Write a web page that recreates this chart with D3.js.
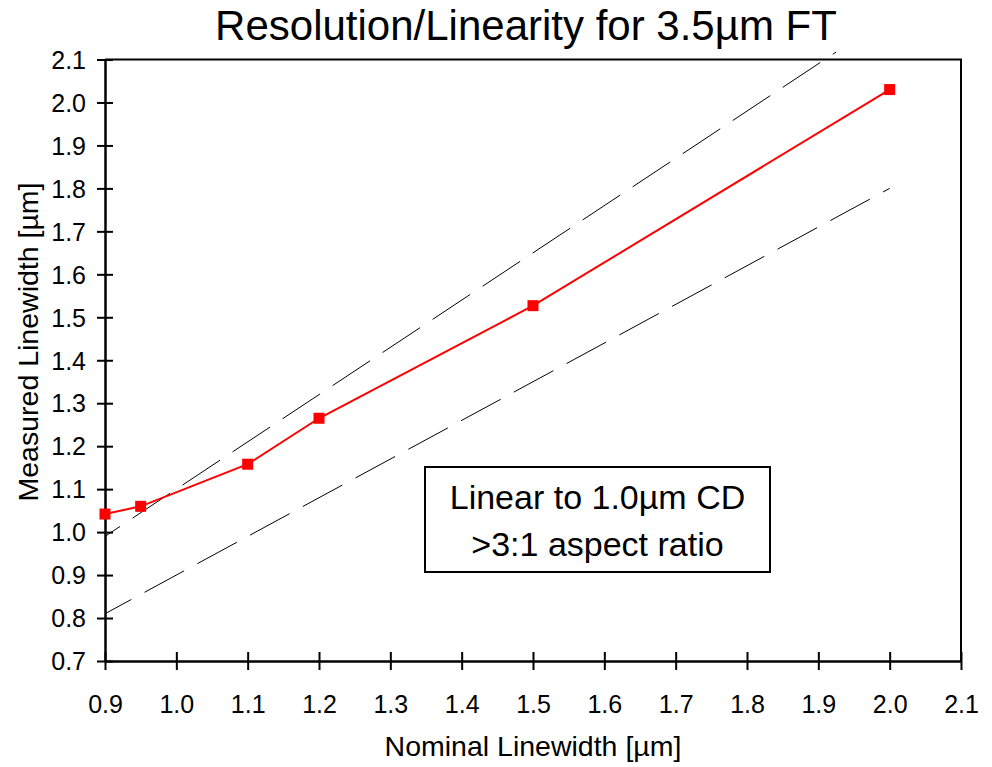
<!DOCTYPE html>
<html lang="en">
<head>
    <meta charset="UTF-8">
    <title>Resolution/Linearity for 3.5µm FT</title>
    <style>
        body { margin: 0; background: #fff; }
        svg text { font-family: "Liberation Sans", Arial, sans-serif; fill: #000; }
    </style>
    <script src="https://cdn.jsdelivr.net/npm/d3@7"></script>
</head>
<body>
    <svg id="chart" width="992" height="767"></svg>

    <script>
        // measured points
        const nominal = [0.9, 0.95, 1.1, 1.2, 1.5, 2.0];
        const measured = [1.042, 1.06, 1.158, 1.265, 1.527, 2.03];

        // +/-10% guide lines (end points)
        const upperX = [0.9, 1.925];
        const upperY = [0.99, 2.1175];
        const lowerX = [0.9, 2.0];
        const lowerY = [0.81, 1.8];

        const xTicks = [0.9, 1.0, 1.1, 1.2, 1.3, 1.4, 1.5, 1.6, 1.7, 1.8, 1.9, 2.0, 2.1];
        const yTicks = [0.7, 0.8, 0.9, 1.0, 1.1, 1.2, 1.3, 1.4, 1.5, 1.6, 1.7, 1.8, 1.9, 2.0, 2.1];

        const noteLines = ["Linear to 1.0µm CD", ">3:1 aspect ratio"];

        const svg = d3.select("#chart");
        const plotL = 105, plotR = 961, plotT = 59.5, plotB = 661;

        const x = d3.scaleLinear().domain([0.9, 2.1]).range([plotL, plotR]);
        const y = d3.scaleLinear().domain([0.7, 2.1]).range([plotB, plotT]);
        const fmt = d3.format(".1f");

        // title
        svg.append("text")
            .attr("x", 526).attr("y", 40)
            .attr("text-anchor", "middle")
            .style("font-size", "42px")
            .text("Resolution/Linearity for 3.5µm FT");

        // plot frame (top + right)
        svg.append("path")
            .attr("d", `M${plotL},${plotT}H${plotR}V${plotB}`)
            .attr("fill", "none").attr("stroke", "#000").attr("stroke-width", 2);

        // dashed guide lines
        const guide = (xs, ys, offset) => {
            svg.append("line")
                .attr("x1", x(xs[0])).attr("y1", y(ys[0]))
                .attr("x2", x(xs[1])).attr("y2", y(ys[1]))
                .attr("stroke", "#000").attr("stroke-width", 1)
                .attr("stroke-dasharray", "45,15")
                .attr("stroke-dashoffset", offset);
        };
        guide(upperX, upperY, 27);
        guide(lowerX, lowerY, 15);

        // axes
        const xAxis = svg.append("g")
            .attr("transform", `translate(0,${plotB})`)
            .call(d3.axisBottom(x).tickValues(xTicks).tickFormat(fmt).tickSizeOuter(0));
        xAxis.selectAll(".tick line").attr("y1", -9).attr("y2", 9).attr("stroke-width", 2);
        xAxis.selectAll(".tick text").attr("y", 52).attr("dy", 0).style("font-size", "25px");

        const yAxis = svg.append("g")
            .attr("transform", `translate(${plotL},0)`)
            .call(d3.axisLeft(y).tickValues(yTicks).tickFormat(fmt).tickSizeOuter(0));
        yAxis.selectAll(".tick line").attr("x1", -8).attr("x2", 8).attr("stroke-width", 2);
        yAxis.selectAll(".tick text").attr("x", -19).attr("dy", "0.35em").style("font-size", "25px");

        svg.selectAll(".domain").attr("stroke", "#000").attr("stroke-width", 2.5);
        svg.selectAll(".tick line").attr("stroke", "#000");

        // axis titles
        svg.append("text")
            .attr("x", 533).attr("y", 756)
            .attr("text-anchor", "middle")
            .style("font-size", "28.5px")
            .text("Nominal Linewidth [µm]");

        svg.append("text")
            .attr("transform", `translate(38,342) rotate(-90)`)
            .attr("text-anchor", "middle")
            .style("font-size", "28.5px")
            .text("Measured Linewidth [µm]");

        // data line + markers
        const pts = nominal.map((d, i) => [d, measured[i]]);
        svg.append("path")
            .datum(pts)
            .attr("fill", "none")
            .attr("stroke", "#ff0000")
            .attr("stroke-width", 2)
            .attr("d", d3.line().x(d => x(d[0])).y(d => y(d[1])));

        svg.selectAll(".mark")
            .data(pts)
            .join("rect")
            .attr("class", "mark")
            .attr("x", d => x(d[0]) - 5.5)
            .attr("y", d => y(d[1]) - 5.5)
            .attr("width", 11).attr("height", 11)
            .attr("fill", "#ff0000");

        // annotation box
        const box = svg.append("g").attr("transform", "translate(425,467)");
        box.append("rect")
            .attr("width", 345).attr("height", 105)
            .attr("fill", "#fff").attr("stroke", "#000").attr("stroke-width", 2);
        box.selectAll("text")
            .data(noteLines)
            .join("text")
            .attr("x", 172.5)
            .attr("y", (d, i) => 42 + i * 47)
            .attr("text-anchor", "middle")
            .style("font-size", "34px")
            .text(d => d);
    </script>
</body>
</html>
